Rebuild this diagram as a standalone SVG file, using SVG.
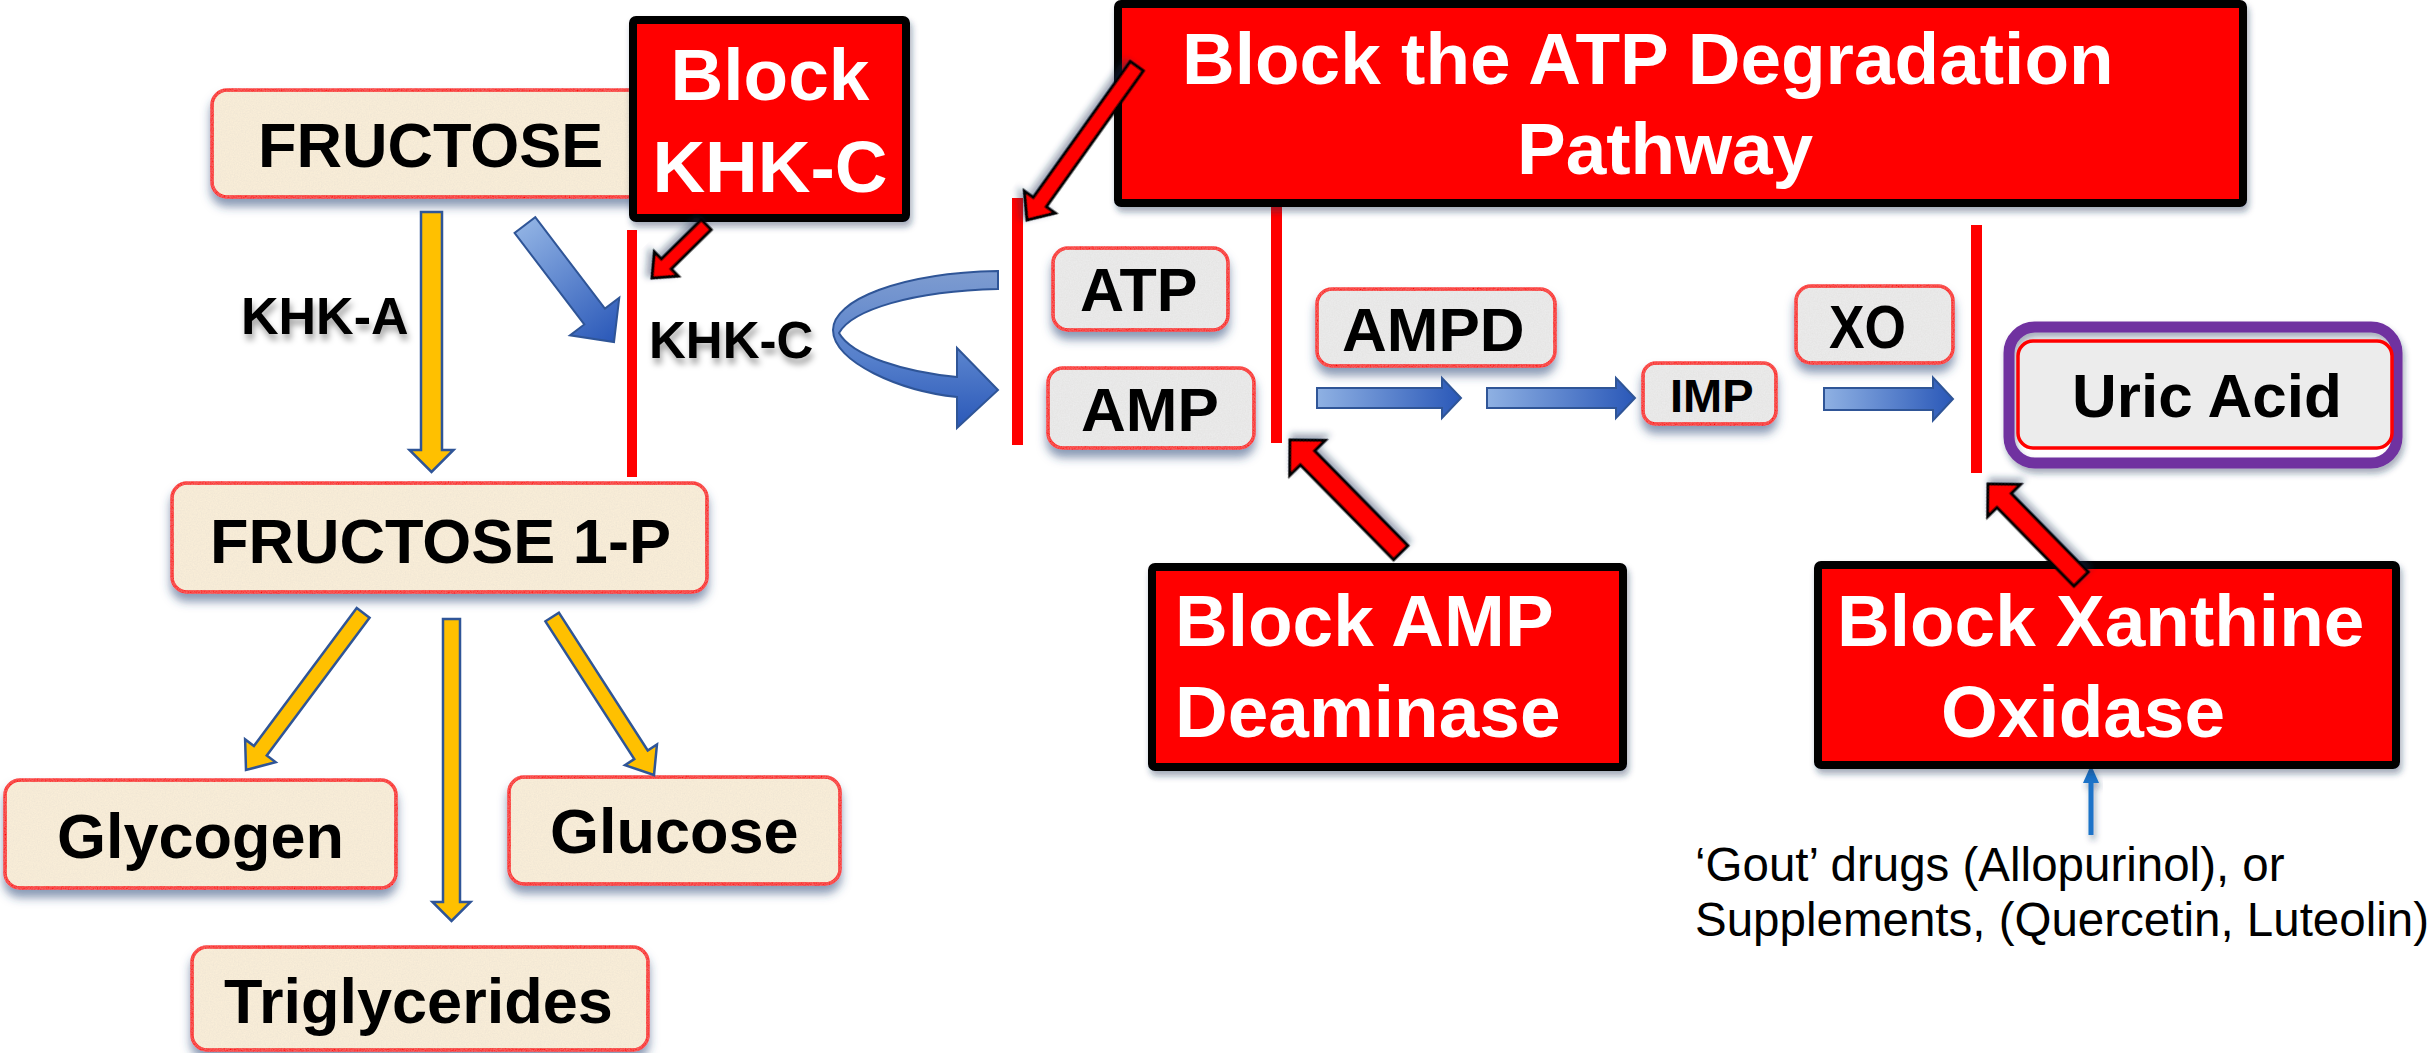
<svg xmlns="http://www.w3.org/2000/svg" width="2432" height="1053" viewBox="0 0 2432 1053">
  <defs>
    <style>
      .t { font-family: "Liberation Sans", Arial, sans-serif; font-weight: bold; fill: #000; }
      .w { font-family: "Liberation Sans", Arial, sans-serif; font-weight: bold; fill: #fff; font-size: 73px; }
      .n { font-family: "Liberation Sans", Arial, sans-serif; fill: #000; font-size: 47.5px; }
      .beige { fill: #FBEFD9; stroke: #FF0000; stroke-width: 3.5; }
      .gray { fill: #ECECEC; stroke: #FF0000; stroke-width: 3.5; }
      .block { fill: #FF0000; stroke: #000; stroke-width: 8; }
      .bar { fill: #FF0000; }
      .yel { fill: #FFC000; stroke: #2F5597; stroke-width: 2.5; stroke-linejoin: miter; }
      .redarr { fill: #FF0000; stroke: #000; stroke-width: 3; stroke-linejoin: miter; }
      .bluearr { stroke: #2F5597; stroke-width: 2; }
    </style>
    <linearGradient id="gH" x1="0" y1="0" x2="1" y2="0">
      <stop offset="0" stop-color="#8FB1E3"/>
      <stop offset="1" stop-color="#2A58B8"/>
    </linearGradient>
    <linearGradient id="gCurve" x1="0" y1="0" x2="0" y2="1">
      <stop offset="0" stop-color="#7E9CD0"/>
      <stop offset="0.55" stop-color="#5680CC"/>
      <stop offset="1" stop-color="#2A58B8"/>
    </linearGradient>
    <filter id="boxfx" x="-10%" y="-20%" width="120%" height="160%">
      <feGaussianBlur in="SourceAlpha" stdDeviation="5" result="b"/>
      <feOffset in="b" dx="0" dy="8" result="ob"/>
      <feFlood flood-color="#2D4A7A" flood-opacity="0.55"/>
      <feComposite in2="ob" operator="in" result="shadow"/>
      <feTurbulence type="fractalNoise" baseFrequency="0.75" numOctaves="2" seed="4" result="noise"/>
      <feColorMatrix in="noise" type="matrix" values="0 0 0 0 0.6  0 0 0 0 0.58  0 0 0 0 0.55  0 0 0 0.35 -0.05" result="nc"/>
      <feComposite in="nc" in2="SourceAlpha" operator="in" result="grain"/>
      <feMerge>
        <feMergeNode in="shadow"/>
        <feMergeNode in="SourceGraphic"/>
        <feMergeNode in="grain"/>
      </feMerge>
    </filter>
    <filter id="soft" x="-10%" y="-10%" width="130%" height="140%">
      <feDropShadow dx="2" dy="5" stdDeviation="3" flood-color="#1F3355" flood-opacity="0.4"/>
    </filter>
    <filter id="txtsh" x="-10%" y="-20%" width="130%" height="160%">
      <feDropShadow dx="2" dy="6" stdDeviation="3" flood-color="#000" flood-opacity="0.35"/>
    </filter>
  </defs>

  <rect width="2432" height="1053" fill="#FFFFFF"/>

  <!-- pathway nodes (left) -->
  <g id="fructose">
    <rect class="beige" x="212" y="90" width="450" height="107" rx="15" filter="url(#boxfx)"/>
    <text class="t" x="258" y="167" font-size="63">FRUCTOSE</text>
  </g>
  <g id="fructose-1p">
    <rect class="beige" x="172" y="483" width="535" height="109" rx="15" filter="url(#boxfx)"/>
    <text class="t" x="210" y="563" font-size="63">FRUCTOSE 1-P</text>
  </g>
  <g id="glycogen">
    <rect class="beige" x="5" y="780" width="391" height="108" rx="15" filter="url(#boxfx)"/>
    <text class="t" x="57" y="858" font-size="63">Glycogen</text>
  </g>
  <g id="glucose">
    <rect class="beige" x="509" y="777" width="331" height="107" rx="15" filter="url(#boxfx)"/>
    <text class="t" x="550" y="853" font-size="63">Glucose</text>
  </g>
  <g id="triglycerides">
    <rect class="beige" x="192" y="947" width="456" height="103" rx="15" filter="url(#boxfx)"/>
    <text class="t" x="224" y="1023" font-size="63">Triglycerides</text>
  </g>

  <!-- enzyme labels -->
  <g id="khk-a-label">
    <text class="t" x="241" y="334" font-size="52" filter="url(#txtsh)">KHK-A</text>
  </g>
  <g id="khk-c-label">
    <text class="t" x="649" y="358" font-size="51" filter="url(#txtsh)">KHK-C</text>
  </g>

  <!-- ATP degradation nodes -->
  <g id="atp">
    <rect class="gray" x="1053" y="248" width="175" height="82" rx="15" filter="url(#boxfx)"/>
    <text class="t" x="1080" y="311" font-size="61">ATP</text>
  </g>
  <g id="amp">
    <rect class="gray" x="1048" y="368" width="206" height="80" rx="15" filter="url(#boxfx)"/>
    <text class="t" x="1081" y="431" font-size="62">AMP</text>
  </g>
  <g id="ampd">
    <rect class="gray" x="1317" y="289" width="238" height="77" rx="15" filter="url(#boxfx)"/>
    <text class="t" x="1342" y="351" font-size="62">AMPD</text>
  </g>
  <g id="imp">
    <rect class="gray" x="1643" y="363" width="133" height="61" rx="13" filter="url(#boxfx)"/>
    <text class="t" x="1670" y="412" font-size="47">IMP</text>
  </g>
  <g id="xo">
    <rect class="gray" x="1796" y="286" width="157" height="77" rx="15" filter="url(#boxfx)"/>
    <text class="t" x="1829" y="348" font-size="62" textLength="77" lengthAdjust="spacingAndGlyphs">XO</text>
  </g>
  <g id="uric-acid">
    <rect x="2009" y="327" width="388" height="136" rx="26" fill="none" stroke="#7030A0" stroke-width="11" filter="url(#soft)"/>
    <rect class="gray" x="2018" y="341" width="374" height="107" rx="15"/>
    <text class="t" x="2072" y="417" font-size="62">Uric Acid</text>
  </g>

  <!-- connectors -->
  <g id="connectors">
    <!-- yellow KHK-A / branch arrows -->
    <g transform="translate(431.5,472) rotate(90)">
      <path class="yel" d="M-260,-10.5 L-22,-10.5 L-22,-22 L0,0 L-22,22 L-22,10.5 L-260,10.5 Z"/>
    </g>
    <g transform="translate(246,770) rotate(126.7)">
      <path class="yel" d="M-196,-8 L-24,-8 L-24,-19 L0,0 L-24,19 L-24,8 L-196,8 Z"/>
    </g>
    <g transform="translate(451.5,921) rotate(90)">
      <path class="yel" d="M-302,-8.5 L-19,-8.5 L-19,-19 L0,0 L-19,19 L-19,8.5 L-302,8.5 Z"/>
    </g>
    <g transform="translate(654,775) rotate(57.2)">
      <path class="yel" d="M-188,-8 L-24,-8 L-24,-19 L0,0 L-24,19 L-24,8 L-188,8 Z"/>
    </g>

    <!-- blue KHK-C arrow -->
    <g transform="translate(614,342) rotate(52.7)">
      <path class="bluearr" fill="url(#gH)" d="M-147,-13 L-32,-13 L-32,-31 L0,0 L-32,31 L-32,13 L-147,13 Z"/>
    </g>

    <!-- curved ATP to AMP arrow -->
    <path class="bluearr" fill="url(#gCurve)" d="M998,271 C900,273 833,300 833,330 C833,362 900,391 957,397 L957,428 L998,390 L957,348 L957,377 C905,372 852,356 839,333 C852,310 912,291 998,289 Z"/>

    <!-- blue pathway arrows -->
    <g transform="translate(1461,398)">
      <path class="bluearr" fill="url(#gH)" d="M-144,-10 L-19,-10 L-19,-20 L0,0 L-19,20 L-19,10 L-144,10 Z"/>
    </g>
    <g transform="translate(1635,398)">
      <path class="bluearr" fill="url(#gH)" d="M-148,-10 L-19,-10 L-19,-20 L0,0 L-19,20 L-19,10 L-148,10 Z"/>
    </g>
    <g transform="translate(1953,399)">
      <path class="bluearr" fill="url(#gH)" d="M-129,-11 L-20,-11 L-20,-21.5 L0,0 L-20,21.5 L-20,11 L-129,11 Z"/>
    </g>

    <!-- inhibition bars -->
    <rect class="bar" x="627" y="230" width="10" height="247"/>
    <rect class="bar" x="1012" y="198" width="11" height="247"/>
    <rect class="bar" x="1271" y="200" width="11" height="243"/>
    <rect class="bar" x="1971" y="225" width="11" height="248"/>

    <!-- thin drug arrow -->
    <g fill="#1A73C8" filter="url(#soft)">
      <rect x="2088.5" y="780" width="5" height="55"/>
      <path d="M2083,783 L2091,765 L2099,783 Z"/>
    </g>
  </g>

  <!-- blocking boxes -->
  <g id="block-atp">
    <rect class="block" x="1118" y="4" width="1125" height="199" rx="3" filter="url(#soft)"/>
    <text class="w" x="1182" y="84">Block the ATP Degradation</text>
    <text class="w" x="1517" y="174">Pathway</text>
  </g>
  <g id="block-khk-c">
    <rect class="block" x="633" y="20" width="273" height="198" rx="3" filter="url(#soft)"/>
    <text class="w" x="770" y="100" text-anchor="middle">Block</text>
    <text class="w" x="770" y="192" text-anchor="middle">KHK-C</text>
  </g>
  <g id="block-amp-deaminase">
    <rect class="block" x="1152" y="567" width="471" height="200" rx="3" filter="url(#soft)"/>
    <text class="w" x="1175" y="646">Block AMP</text>
    <text class="w" x="1175" y="737">Deaminase</text>
  </g>
  <g id="block-xanthine-oxidase">
    <rect class="block" x="1818" y="565" width="578" height="200" rx="3" filter="url(#soft)"/>
    <text class="w" x="1837" y="646">Block Xanthine</text>
    <text class="w" x="1941" y="737">Oxidase</text>
  </g>

  <!-- red blocking arrows -->
  <g id="block-arrows">
    <g transform="translate(652,278) rotate(135.5)" filter="url(#soft)">
      <path class="redarr" d="M-76,-7 L-20,-7 L-20,-17 L0,0 L-20,17 L-20,7 L-76,7 Z"/>
    </g>
    <g transform="translate(1027,220) rotate(125.5)" filter="url(#soft)">
      <path class="redarr" d="M-189,-8 L-22,-8 L-22,-19 L0,0 L-22,19 L-22,8 L-189,8 Z"/>
    </g>
    <g transform="translate(1290,440) rotate(225.5)" filter="url(#soft)">
      <path class="redarr" d="M-158,-10 L-25,-10 L-25,-25 L0,0 L-25,25 L-25,10 L-158,10 Z"/>
    </g>
    <g transform="translate(1988,484) rotate(225.6)" filter="url(#soft)">
      <path class="redarr" d="M-133,-10 L-23,-10 L-23,-23 L0,0 L-23,23 L-23,10 L-133,10 Z"/>
    </g>
  </g>

  <!-- drug note -->
  <g id="drug-note">
    <text class="n" x="1695" y="881">‘Gout’ drugs (Allopurinol), or</text>
    <text class="n" x="1695" y="936">Supplements, (Quercetin, Luteolin)</text>
  </g>
</svg>
